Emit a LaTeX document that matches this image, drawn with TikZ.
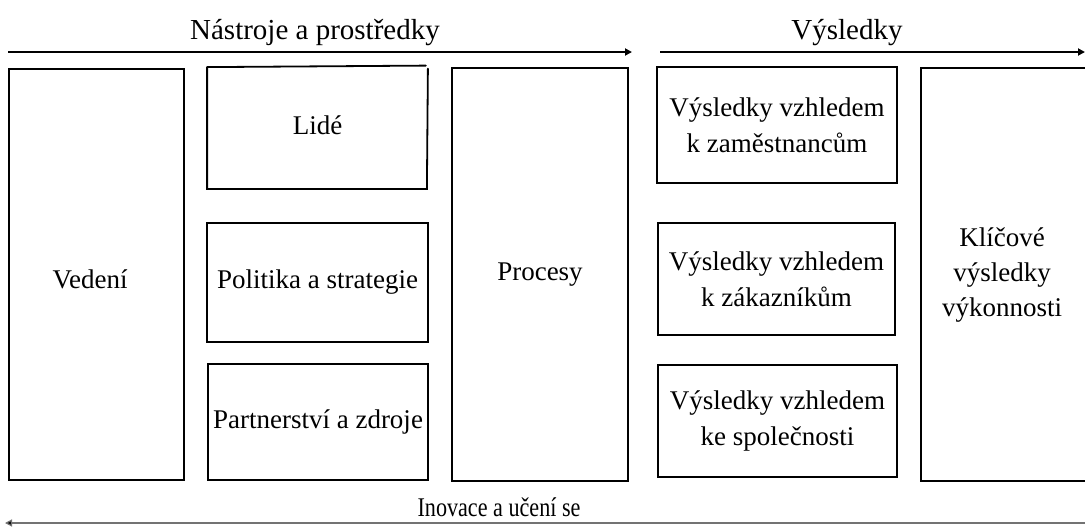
\documentclass[tikz,border=0pt]{standalone}
\usepackage{fontspec}
\setmainfont{Liberation Serif}
\usetikzlibrary{arrows.meta}
\begin{document}
\begin{tikzpicture}[x=1pt,y=-1pt,
  box/.style={draw=black, line width=1.8pt, inner sep=0pt, align=center,
    font=\fontsize{27}{36}\selectfont},
  head/.style={inner sep=0pt, anchor=base, font=\fontsize{29}{32}\selectfont},
  flow/.style={line width=1.8pt, -{Triangle[length=7pt,width=7pt]}},
  backflow/.style={line width=1.2pt, draw=black!55, -{Triangle[length=7pt,width=7pt,fill=black]}},
  edge/.style={line width=1.8pt, line cap=round},
]
\useasboundingbox (0,0) rectangle (1085,528);
\clip (0,0) rectangle (1085,528);

% headings
\node[head] (tools) at (315,39) {Nástroje a prostředky};
\node[head] (results) at (847,39) {Výsledky};
\node[head, font=\fontsize{27}{30}\selectfont, xscale=0.82, transform shape] (learning) at (499,516) {Inovace a učení se};

% flow arrows
\coordinate (toolsL) at (8,52);
\coordinate (toolsR) at (632,52);
\coordinate (resL) at (660,52);
\coordinate (resR) at (1085,52);
\coordinate (learnR) at (1085,523);
\coordinate (learnL) at (5,523);
\draw[flow] (toolsL) -- (toolsR);
\draw[flow] (resL) -- (resR);
\draw[backflow] (learnR) -- (learnL);

% enablers
\node[box, minimum width=175pt, minimum height=411pt] (vedeni) at (96.5,274.5) {};
\node[box, draw=none] (vedenitext) at (90,279) {Vedení};
\node[box, draw=none, minimum width=219pt, minimum height=120pt] (lide) at (317.5,128) {};
\draw[edge] (lide.north west) -- ([xshift=-2pt,yshift=1.5pt]lide.north east);
\draw[edge] ([yshift=-1.5pt]lide.north east) -- ([xshift=-1pt]lide.south east)
  -- (lide.south west) -- (lide.north west);
\node[box, draw=none] (lidetext) at (317.5,125) {Lidé};
\node[box, minimum width=221pt, minimum height=119pt] (politika) at (317.5,282.5) {Politika a strategie};
\node[box, minimum width=220pt, minimum height=116pt] (partner) at (318,422) {Partnerství a zdroje};
\node[box, minimum width=176pt, minimum height=413pt] (procesy) at (540,274.5) {Procesy};

% results
\node[box, minimum width=240pt, minimum height=116pt] (zam) at (777,125) {Výsledky vzhledem\\k zaměstnancům};
\node[box, minimum width=237pt, minimum height=112pt] (zak) at (776.5,279) {Výsledky vzhledem\\k zákazníkům};
\node[box, minimum width=239pt, minimum height=112pt] (spol) at (777.5,421) {Výsledky vzhledem\\ke společnosti};
\node[box, minimum width=180pt, minimum height=413pt] (klic) at (1011,274.5) {};
\node[box, draw=none, font=\fontsize{27}{35}\selectfont] (klictext) at (1002,275) {Klíčové\\výsledky\\výkonnosti};
\end{tikzpicture}
\end{document}
